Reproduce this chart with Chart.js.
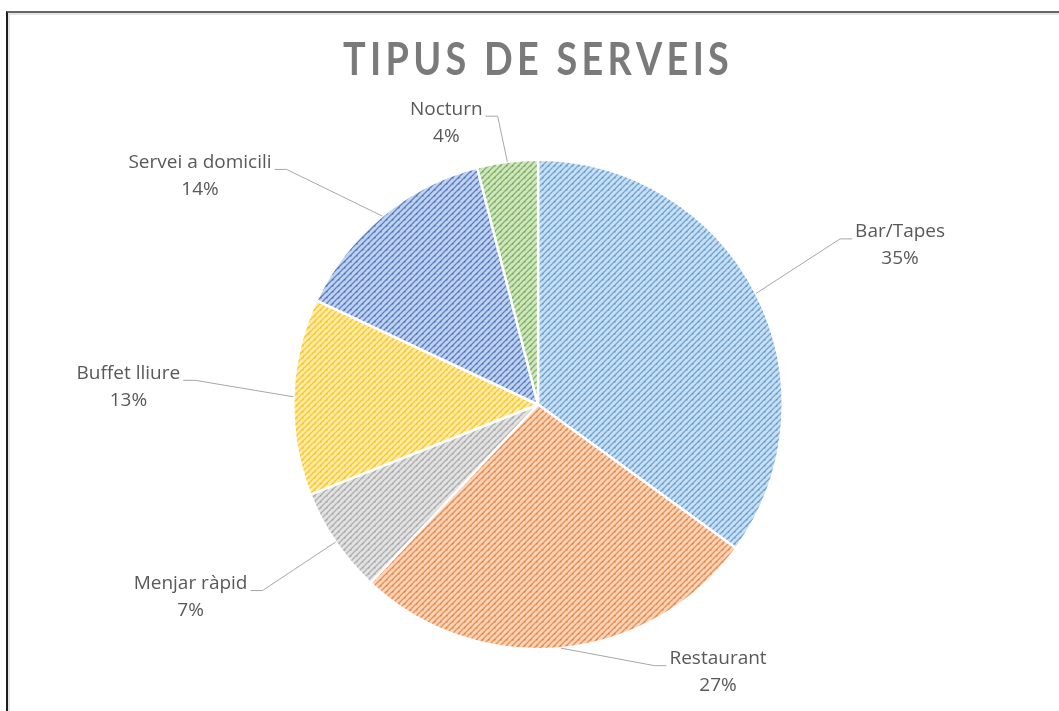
<!DOCTYPE html>
<html>
<head>
<meta charset="utf-8">
<script src="https://cdn.jsdelivr.net/npm/chart.js@4.4.1/dist/chart.umd.min.js"></script>
<style>
  html, body { margin: 0; padding: 0; background: #fff; overflow: hidden; }
  .frame {
    position: absolute; left: 6px; top: 11px; width: 1060px; height: 710px;
    border-top: 2px solid #666; border-left: 2px solid #1c1c1c;
    box-shadow: inset 2px 2px 0 #e6e6e6;
  }
  #pie { position: absolute; left: 0; top: 0; }
</style>
</head>
<body>
<div class="frame"></div>
<canvas id="pie" width="1059" height="711"></canvas>
<script>
const chartTitle = "TIPUS DE SERVEIS";
const categories = ["Bar/Tapes", "Restaurant", "Menjar ràpid", "Buffet lliure", "Servei a domicili", "Nocturn"];
const shares = [35, 27, 7, 13, 14, 4];

const sliceColors = ["#5b9bd5", "#ed7d31", "#a5a5a5", "#ffc000", "#4472c4", "#70ad47"];
// where each label sits, relative to the slice's outer edge point
const labelOffsets = [[144, -48], [157, 24], [-145, 55], [-165, -10], [-182, -40], [-61, -39]];

const canvas = document.getElementById("pie");
const ctx = canvas.getContext("2d");

function tint(hex, amount) {
  const n = parseInt(hex.slice(1), 16);
  const r = (n >> 16) & 255, g = (n >> 8) & 255, b = n & 255;
  const mix = (c) => Math.round(c + (255 - c) * amount);
  return `rgb(${mix(r)}, ${mix(g)}, ${mix(b)})`;
}

function makePattern(color) {
  const tile = document.createElement("canvas");
  tile.width = tile.height = 6;
  const g = tile.getContext("2d");
  g.fillStyle = tint(color, 0.68);
  g.fillRect(0, 0, 6, 6);
  g.strokeStyle = tint(color, 0.12);
  g.lineWidth = 1.3;
  g.beginPath();
  g.moveTo(-1, 7); g.lineTo(7, -1);
  g.moveTo(-1, 1); g.lineTo(1, -1);
  g.moveTo(5, 7); g.lineTo(7, 5);
  g.stroke();
  g.fillStyle = color;
  g.fillRect(2, 3, 1.5, 1.5);
  return ctx.createPattern(tile, "repeat");
}

const titlePlugin = {
  id: "spacedTitle",
  afterDraw(chart) {
    const c = chart.ctx;
    const squeeze = 0.84;
    c.save();
    c.font = "bold 45px Lato";
    c.fillStyle = "#7a7a7a";
    c.textBaseline = "alphabetic";
    const chars = chartTitle.split("");
    const plain = c.measureText(chartTitle).width * squeeze;
    const spacing = Math.max((385 - plain) / (chars.length - 1), 0);
    let x = 535.5 - (plain + spacing * (chars.length - 1)) / 2;
    chars.forEach((ch) => {
      c.save();
      c.translate(x, 75);
      c.scale(squeeze, 1);
      c.fillText(ch, 0, 0);
      c.restore();
      x += c.measureText(ch).width * squeeze + spacing;
    });
    c.restore();
  },
};

const labelPlugin = {
  id: "leaderLabels",
  afterDatasetsDraw(chart) {
    const c = chart.ctx;
    const meta = chart.getDatasetMeta(0);
    const total = shares.reduce((a, b) => a + b, 0);
    c.save();
    c.font = "19px 'Open Sans'";
    c.textAlign = "center";
    c.textBaseline = "middle";
    meta.data.forEach((arc, i) => {
      const { x, y, startAngle, endAngle, outerRadius } = arc.getProps(
        ["x", "y", "startAngle", "endAngle", "outerRadius"], true);
      const mid = (startAngle + endAngle) / 2;
      const ex = x + Math.cos(mid) * outerRadius;
      const ey = y + Math.sin(mid) * outerRadius;
      const cx = ex + labelOffsets[i][0];
      const cy = ey + labelOffsets[i][1];
      const line1 = categories[i];
      const line2 = Math.round((shares[i] / total) * 100) + "%";
      const w = Math.max(c.measureText(line1).width, c.measureText(line2).width);
      const lineY = cy - 13.5 + 7;
      const right = cx > ex;
      const edge = right ? cx - w / 2 : cx + w / 2;
      const dir = right ? -1 : 1;

      c.strokeStyle = "#a6a6a6";
      c.lineWidth = 1;
      c.beginPath();
      c.moveTo(ex, ey);
      c.lineTo(edge + dir * 15, lineY);
      c.lineTo(edge + dir * 3, lineY);
      c.stroke();

      c.fillStyle = "#595959";
      c.fillText(line1, cx, cy - 13.5);
      c.fillText(line2, cx, cy + 13.5);
    });
    c.restore();
  },
};

new Chart(ctx, {
  type: "pie",
  data: {
    labels: categories,
    datasets: [
      {
        data: shares,
        backgroundColor: sliceColors.map(makePattern),
        borderColor: "#ffffff",
        borderWidth: 2.5,
        hoverOffset: 0,
        offset: 0,
      },
    ],
  },
  options: {
    responsive: false,
    animation: false,
    events: [],
    layout: { padding: { left: 292, right: 275, top: 158, bottom: 60 } },
    plugins: {
      legend: { display: false },
      tooltip: { enabled: false },
      title: { display: false },
    },
  },
  plugins: [labelPlugin, titlePlugin],
});
</script>
</body>
</html>
